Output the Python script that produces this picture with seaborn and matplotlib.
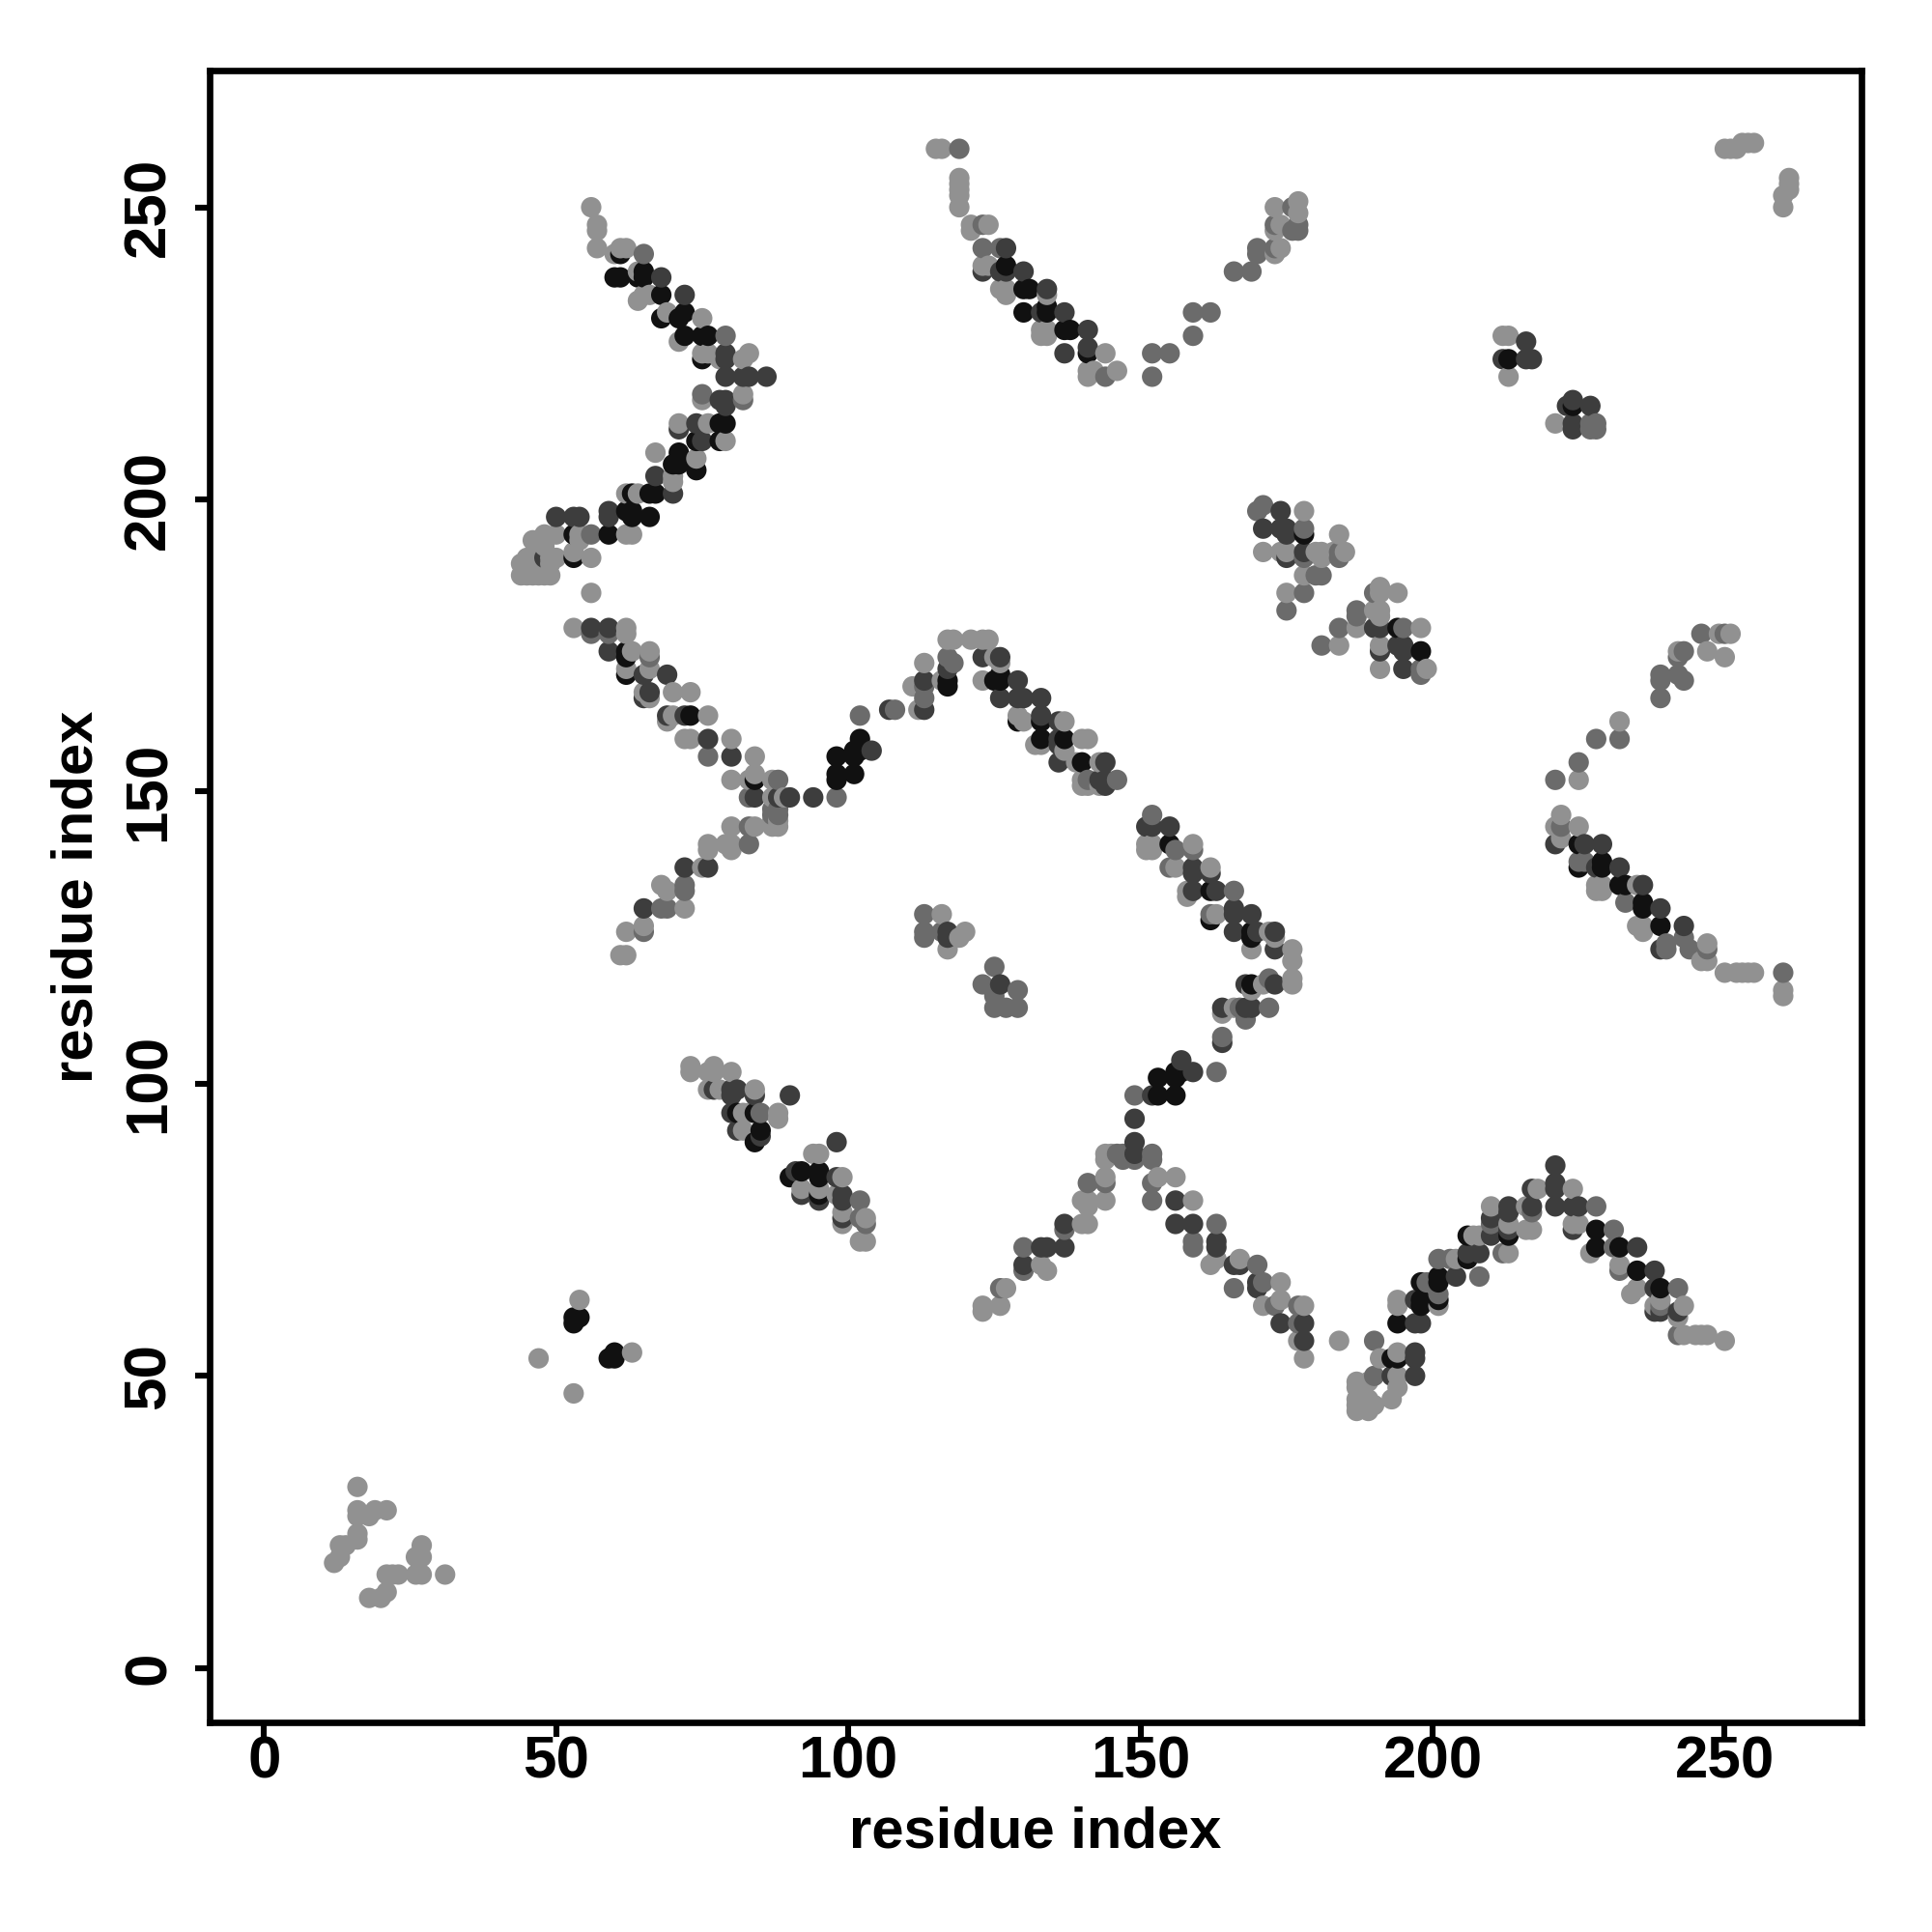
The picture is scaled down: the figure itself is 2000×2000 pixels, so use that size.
import matplotlib
matplotlib.use("Agg")
import matplotlib.pyplot as plt
import pandas as pd
import seaborn as sns

# contact pairs (residue i, residue j), grouped by contact strength
faint = [(12,18),(13,19),(13,21),(14,21),(16,31),(16,27),(16,26),(16,23),(16,22),(19,27),(18,26),(21,27),(27,21),(26,19),(27,19),(26,16),(27,16),(31,16),(23,16),(22,16),(21,16),(21,13),(18,12),(20,12),
(47,53),(53,47),(54,63),(63,54),
(56,250),(57,247),(57,246),(57,243),(60,242),(61,243),(62,243),(64,239),(65,235),(66,235),(64,234),(69,232),(71,231),(75,231),(71,227),(75,224),(76,225),(75,225),(78,224),(82,224),(83,225),(75,217),(75,218),(78,217),(82,218),(71,213),(76,213),(79,210),(67,208),(74,207),(70,204),(70,203),(62,201),(64,201),
(46,193),(48,194),(50,194),(54,194),(54,193),(62,194),(63,194),(44,189),(45,190),(46,190),(49,190),(50,190),(53,191),(56,190),(44,187),(45,187),(46,187),(47,187),(48,187),(49,187),(49,189),(47,190),(47,192),(48,192),(56,184),
(53,178),(62,178),(62,177),(63,174),(66,174),(62,171),(66,171),(65,167),(66,166),(70,167),(73,167),(70,163),(69,162),(76,163),(72,159),(73,159),(80,159),(84,156),(80,152),(83,152),(84,153),(87,152),(87,149),(89,149),
(87,144),(88,144),(87,145),(88,145),(80,144),(84,144),(76,141),(76,140),(79,141),(80,141),(80,140),(83,141),(75,137),(68,134),(69,133),(72,130),(62,126),(65,127),(61,122),(62,122),
(112,164),(116,169),(117,176),(118,176),(121,176),(123,176),(124,176),(125,173),(126,172),(123,169),(129,163),(130,162),(132,158),(133,158),(137,162),(137,157),(140,159),(141,159),(139,155),(143,155),(140,152),(140,151),(141,151),(143,151),(111,168),(113,172),(116,129),(119,125),(120,126),(117,123),
(151,141),(151,140),(152,141),(152,140),(159,141),(156,137),(162,137),(158,133),(158,132),(163,129),(172,126),(173,125),(169,123),(176,123),(176,121),(176,118),(176,117),(169,116),(171,117),(166,113),(164,112),(144,88),(144,87),(145,88),(153,84),(156,84),(144,84),(140,80),(141,80),(141,79),(144,80),(159,80),(140,76),(141,76),(133,69),(134,68),(162,69),(163,70),(167,70),(127,65),(174,66),(123,62),(123,61),(126,62),(171,62),(174,63),(178,62),(177,56),(178,53),
(73,103),(73,102),(76,102),(77,103),(77,102),(80,102),(76,99),(78,99),(84,99),(82,95),(83,95),(88,95),(88,94),(82,92),(94,88),(95,88),(99,84),(92,82),(95,82),(98,81),(99,78),(99,76),(102,73),(103,73),(103,77),
(184,56),(191,53),(194,54),(187,49),(187,48),(187,46),(187,45),(187,44),(189,49),(189,44),(189,46),(190,45),(188,47),(194,50),(194,48),(193,46),(194,63),(194,62),(204,70),(213,71),(201,62),(207,74),(208,74),(213,76),(210,79),(216,75),(217,75),(216,79),(218,82),(224,82),(225,76),(224,76),(227,71),(232,69),(234,64),(235,65),(239,63),(238,62),(243,62),(242,60),(243,57),(245,57),(246,57),(247,57),(250,56),
(115,260),(116,260),(119,255),(119,254),(119,253),(119,252),(119,250),(121,247),(121,246),(124,247),(123,240),(124,240),(126,236),(127,236),(127,235),(134,235),(133,229),(133,228),(134,229),(134,228),(141,222),(141,221),(142,222),(146,222),(144,225),
(173,250),(177,251),(177,249),(173,242),(174,243),(174,247),(173,246),
(249,177),(251,177),(247,174),(250,173),(242,174),(232,162),(225,152),(222,146),(221,144),(225,144),(221,141),(222,142),(228,134),(229,134),(228,133),(229,133),(235,134),(235,127),(236,127),(236,126),(247,124),(246,121),(247,121),(250,119),(252,119),(253,119),(254,119),(255,119),(260,116),(260,115),
(178,198),(184,194),(171,191),(174,191),(175,191),(180,191),(181,191),(181,190),(183,191),(185,191),(178,187),(175,184),(191,185),(191,184),(194,184),(190,181),(191,181),(191,180),(187,178),(198,178),(184,175),(191,175),(191,171),(199,171),
(250,260),(252,260),(251,260),(253,261),(254,261),(255,261),(261,255),(261,254),(261,253),(260,252),(260,250),(212,228),(213,228),(213,221),(221,213)]

medium = [(65,242),(75,218),(72,235),(79,228),(82,217),(70,201),(56,194),(56,177),(59,177),(69,170),(66,173),(84,152),(76,156),(98,149),(88,152),(83,149),(87,147),(88,147),(87,146),(88,146),(83,144),(83,141),(65,126),(72,134),(68,130),(69,130),(72,133),(102,163),(108,164),(113,166),(113,168),(117,173),(118,172),(129,162),(141,152),(146,152),(113,129),(113,126),(113,125),(116,126),(123,117),(125,120),(125,115),(125,113),(127,113),(129,116),(129,113),
(152,146),(156,140),(159,140),(155,137),(166,133),(162,129),(168,111),(172,113),(172,118),(173,117),(164,108),(167,113),(163,102),(149,98),(152,88),(152,87),(149,87),(146,88),(147,88),(147,87),(141,83),(144,83),(152,80),(152,83),(137,75),(163,76),(130,72),(130,68),(159,73),(159,72),(170,69),(126,65),(166,65),(173,62),(177,62),(177,59),(171,66),
(102,80),(102,77),(103,76),(85,95),
(190,56),(190,50),(199,66),(201,64),(208,67),(201,70),(203,70),(212,71),(210,76),(217,78),(228,79),(231,75),(231,72),(232,68),(242,65),(239,62),(242,57),
(119,260),(123,247),(123,243),(126,243),(144,221),(152,225),(155,225),(152,221),(159,232),(162,232),(159,228),(166,239),(169,239),(170,243),(170,242),(173,243),(173,247),(176,250),(176,246),(177,247),(177,246),
(246,177),(250,177),(243,174),(242,173),(239,170),(239,169),(242,170),(243,169),(239,166),(232,159),(228,159),(225,155),(221,152),(222,144),(226,138),(225,138),(233,131),(243,125),(240,124),(240,123),(244,123),(247,123),(260,119),
(170,198),(171,199),(178,195),(178,190),(184,191),(184,190),(180,187),(181,187),(178,184),(175,181),(190,184),(187,181),(187,180),(184,178),(195,178),(181,175),(198,171),(198,170),(227,213),(228,213),(227,212),(228,212)]

strong = [(50,197),(53,197),(54,197),(59,198),(59,197),(68,238),(72,235),(79,224),(79,225),(79,221),(82,221),(83,221),(86,221),(78,217),(79,217),(79,216),(71,212),(74,213),(75,210),(67,204),(70,201),(48,190),(59,178),(56,178),(59,174),(65,170),(69,170),(66,167),(65,166),(69,163),(72,163),(76,159),(80,156),(84,149),(88,149),(90,149),(94,149),(72,137),(76,137),(65,130),(104,157),(107,164),(113,169),(113,164),(117,171),(123,173),(126,173),(129,169),(126,166),(129,166),(130,166),(133,166),(133,163),(136,162),(136,159),(136,158),(136,155),(144,155),(144,152),(144,151),(143,152),(117,126),(117,125),(126,117),
(151,144),(152,144),(155,144),(159,137),(159,136),(162,136),(163,133),(159,133),(166,130),(166,129),(169,129),(166,126),(170,126),(173,126),(173,123),(168,117),(173,117),(164,113),(168,113),(169,113),(164,107),(157,104),(159,102),(152,98),(149,94),(149,90),(149,88),(156,80),(159,76),(137,76),(137,72),(133,72),(134,72),(156,76),(130,69),(163,72),(163,73),(166,69),(167,69),(170,66),(170,65),(174,59),(178,59),(178,56),
(77,99),(80,99),(81,99),(80,98),(84,98),(90,98),(80,95),(81,92),(85,91),(98,90),(91,85),(92,81),(95,80),(98,84),(99,81),(99,80),(99,77),
(193,50),(197,54),(197,53),(197,50),(197,63),(197,59),(198,59),(204,67),(206,71),(208,71),(210,74),(210,77),(213,75),(213,78),(213,79),(217,79),(217,82),(221,86),(221,83),(221,82),(221,79),(224,75),(224,79),(225,79),(235,72),(238,68),(238,65),(239,61),(238,61),(242,61),
(123,239),(127,243),(127,239),(126,239),(130,239),(134,236),(133,232),(137,232),(137,225),(141,229),(141,226),
(221,141),(226,141),(229,141),(228,137),(232,137),(236,134),(239,130),(243,127),(239,123),
(174,198),(171,195),(174,195),(175,195),(175,194),(175,190),(178,191),(191,178),(190,178),(194,175),(195,175),(195,174),(195,171),(191,174),
(212,224),(223,216),(224,213),(224,212),(216,224),(217,224),(216,227),(227,216),(224,217)]

black = [(60,238),(61,238),(61,242),(64,238),(65,239),(65,238),(68,235),(68,231),(71,231),(72,232),(72,228),(75,228),(76,228),(75,224),(74,210),(78,213),(79,213),(78,210),(71,208),(70,206),(71,206),(74,205),(63,201),(66,201),(67,201),(62,198),(63,198),(63,197),(66,197),(53,194),(59,194),(53,190),(62,174),(62,173),(62,170),(84,152),(73,163),
(98,156),(98,153),(98,152),(101,157),(101,156),(102,157),(102,159),(101,153),(117,169),(117,168),(125,169),(126,169),(126,170),(129,162),(133,162),(133,159),(137,159),(140,155),
(155,141),(162,133),(162,128),(169,126),(169,125),(169,117),(156,102),(157,102),(153,101),(156,101),(156,98),(153,98),
(81,95),(84,95),(85,92),(84,90),(90,84),(92,85),(95,85),(95,84),(95,81),
(193,53),(194,53),(194,59),(198,66),(198,63),(198,62),(201,67),(201,66),(201,63),(206,74),(206,70),(213,74),(228,75),(228,72),(232,72),(235,68),(239,65),
(127,240),(130,236),(131,236),(130,232),(134,233),(134,232),(137,229),(138,229),(141,225),
(225,141),(225,137),(229,138),(229,137),(232,134),(233,134),(236,131),(236,130),(239,127),
(178,194),(194,178),(198,174),
(213,224),(224,216),(53,60),(54,60),(53,59),(59,53),(60,53),(60,54)]

tick_values = [0, 50, 100, 150, 200, 250]
axis_label = "residue index"

groups = [("faint", faint, 0.57), ("medium", medium, 0.42), ("strong", strong, 0.24), ("black", black, 0.07)]
rows = []
for name, pairs, shade in groups:
    for i, j in pairs:
        rows.append({"i": i, "j": j, "shade": shade})
df = pd.DataFrame(rows).drop_duplicates(["i", "j"], keep="last")
df = df.sort_values(["i", "j"], kind="stable")

sns.set_theme(style="white")
plt.rcParams["font.family"] = ["Liberation Sans", "DejaVu Sans"]
plt.rcParams["font.weight"] = "bold"

fig = plt.figure(figsize=(10, 10), dpi=200)
ax = fig.add_axes([217/2000, 1 - 1783/2000, (1927-217)/2000, (1783-73)/2000])
sns.scatterplot(data=df, x="i", y="j", hue="shade", palette="gray", hue_norm=(0, 1),
                s=58, linewidth=0, legend=False, ax=ax)
ax.set_xlim(-9.3, 273.4)
ax.set_ylim(-9.3, 273.4)
ax.set_xticks(tick_values)
ax.set_yticks(tick_values)
ax.tick_params(axis="both", length=5.5, width=2.2, color="black", labelcolor="black",
               labelsize=22.3, bottom=True, left=True)
ax.tick_params(axis="x", pad=-0.5)
ax.tick_params(axis="y", pad=6.5)
for lab in ax.get_yticklabels():
    lab.set_rotation(90)
    lab.set_va("center")
for lab in ax.get_xticklabels() + ax.get_yticklabels():
    lab.set_fontweight("bold")
for sp in ax.spines.values():
    sp.set_visible(True)
    sp.set_linewidth(2.4)
    sp.set_color("black")
ax.set_xlabel(axis_label, fontsize=21.5, fontweight="bold", color="black", labelpad=5.5)
ax.set_ylabel(axis_label, fontsize=21.5, fontweight="bold", color="black", labelpad=7)
fig.savefig("out.png", dpi=200, facecolor="white")
